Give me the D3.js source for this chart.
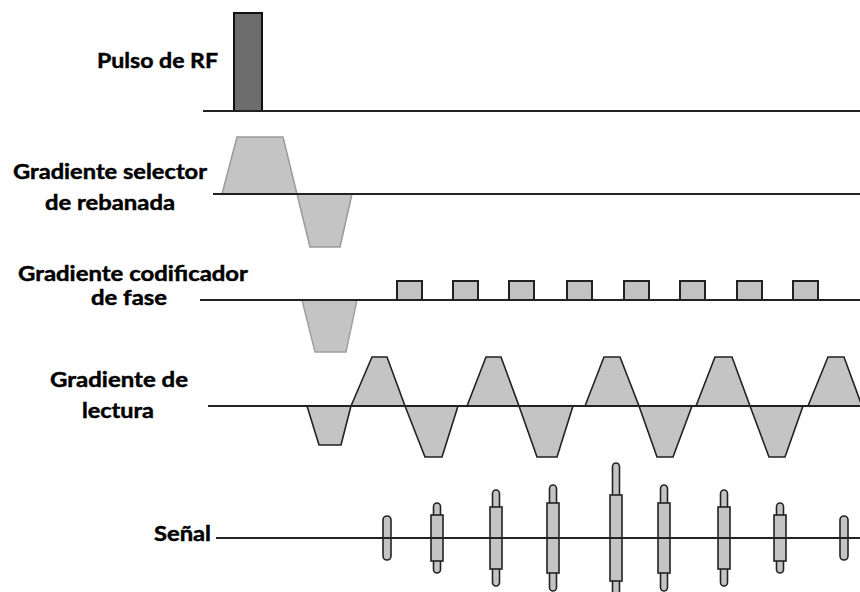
<!DOCTYPE html>
<html>
<head>
<meta charset="utf-8">
<script src="https://cdn.jsdelivr.net/npm/d3@7"></script>
<style>
  html, body { margin: 0; padding: 0; background: #fff; }
  svg { display: block; }
  text { font-family: Lato, "Open Sans", sans-serif; font-weight: 700; fill: #000; stroke: #000; stroke-width: 0.45px; }
</style>
</head>
<body>
<div id="chart"></div>
<script>
// ---------------- DATA (time in arbitrary units, amplitude in arbitrary units) ----------------
// Row labels (each row may have several lines)
const rowLabels = [
  ["Pulso de RF"],
  ["Gradiente selector", "de rebanada"],
  ["Gradiente codificador", "de fase"],
  ["Gradiente de", "lectura"],
  ["Señal"]
];

// RF pulse: [start, end, amplitude]
const rfPulses = [[5.8, 11.4, 1.96]];

// Trapezoidal lobes: [start, plateauStart, plateauEnd, end, amplitude]
const sliceLobes = [
  [3.4, 6.4, 15.6, 18.4, 1.14],
  [18.4, 21.0, 27.0, 29.4, -1.06]
];
const phasePrephaser = [[19.4, 22.0, 28.2, 30.4, -1.04]];
const phaseBlipStarts = [38.4, 49.6, 60.8, 72.4, 83.8, 95.0, 106.4, 117.6];
const phaseBlipWidth = 5;
const phaseBlipAmp = 0.38;

const readoutLobes = [
  [20.4, 22.8, 27.2, 29.2, -0.78],
  [29.2, 33.4, 36.4, 40.0, 0.98],
  [40.0, 44.0, 47.4, 50.6, -1.02],
  [52.4, 56.2, 59.2, 62.8, 0.98],
  [62.8, 66.4, 70.4, 73.6, -1.02],
  [76.0, 79.8, 83.0, 86.8, 0.98],
  [86.8, 90.4, 93.6, 97.4, -1.02],
  [98.2, 102.0, 105.4, 109.0, 0.98],
  [109.0, 112.8, 116.0, 119.6, -1.02],
  [120.6, 124.6, 127.8, 131.4, 0.98]
];

// Signal echoes
const echoTimes = [36.4, 46.4, 58.2, 69.6, 82.2, 91.8, 103.8, 115.0, 127.8];
const echoCore  = [0.44, 0.46, 0.62, 0.70, 0.86, 0.70, 0.62, 0.46, 0.44]; // half-height of wide body
const echoTail  = [0.00, 0.70, 0.96, 1.06, 1.50, 1.06, 0.96, 0.70, 0.00]; // half-height of thin tails

// ---------------- LAYOUT ----------------
const W = 860, H = 592;
const svg = d3.select("#chart").append("svg").attr("width", W).attr("height", H);

const x = d3.scaleLinear().domain([0, 131]).range([205, 860]);
// amplitude → pixel offset (shared by all rows)
const amp = d3.scaleLinear().domain([-1, 1]).range([50, -50]);

const rows = [
  { base: 111, lineStart: 203 },
  { base: 194, lineStart: 213 },
  { base: 300, lineStart: 200 },
  { base: 406, lineStart: 208 },
  { base: 538, lineStart: 216 }
];
const yRow = (r, a) => rows[r].base + amp(a);

const labelLayout = [
  [{ x: 97, y: 68, w: 121 }],
  [{ x: 13, y: 179, w: 194 }, { x: 45, y: 210, w: 130 }],
  [{ x: 18, y: 281, w: 230 }, { x: 91, y: 305, w: 76 }],
  [{ x: 50, y: 387, w: 138 }, { x: 82, y: 418, w: 72 }],
  [{ x: 154, y: 541, w: 57 }]
];

// ---------------- LABELS ----------------
rowLabels.forEach((lines, r) => {
  lines.forEach((t, i) => {
    const L = labelLayout[r][i];
    svg.append("text")
      .attr("x", L.x).attr("y", L.y)
      .attr("font-size", 20.5)
      .attr("textLength", L.w)
      .attr("lengthAdjust", "spacingAndGlyphs")
      .text(t);
  });
});

const line = d3.line();
function trapPath(r, d) {
  return line([
    [x(d[0]), yRow(r, 0)],
    [x(d[1]), yRow(r, d[4])],
    [x(d[2]), yRow(r, d[4])],
    [x(d[3]), yRow(r, 0)]
  ]) + "Z";
}

// ---------------- RF ----------------
svg.append("g").selectAll("rect").data(rfPulses).join("rect")
  .attr("x", d => x(d[0]))
  .attr("y", d => yRow(0, d[2]))
  .attr("width", d => x(d[1]) - x(d[0]))
  .attr("height", d => yRow(0, 0) - yRow(0, d[2]))
  .attr("fill", "#6d6d6d")
  .attr("stroke", "#111")
  .attr("stroke-width", 2);

// ---------------- Slice select ----------------
svg.append("g").selectAll("path").data(sliceLobes).join("path")
  .attr("d", d => trapPath(1, d))
  .attr("fill", "#c4c4c4")
  .attr("stroke", "#9a9a9a")
  .attr("stroke-width", 1.5);

// ---------------- Phase encode ----------------
svg.append("g").selectAll("path").data(phasePrephaser).join("path")
  .attr("d", d => trapPath(2, d))
  .attr("fill", "#c4c4c4")
  .attr("stroke", "#a0a0a0")
  .attr("stroke-width", 1.5);

svg.append("g").selectAll("rect").data(phaseBlipStarts).join("rect")
  .attr("x", d => x(d))
  .attr("y", yRow(2, phaseBlipAmp))
  .attr("width", x(phaseBlipWidth) - x(0))
  .attr("height", yRow(2, 0) - yRow(2, phaseBlipAmp))
  .attr("fill", "#c2c2c2")
  .attr("stroke", "#222")
  .attr("stroke-width", 2);

// ---------------- Readout ----------------
svg.append("g").selectAll("path").data(readoutLobes).join("path")
  .attr("d", d => trapPath(3, d))
  .attr("fill", "#c4c4c4")
  .attr("stroke", "#222")
  .attr("stroke-width", 1.6);

// ---------------- Baselines ----------------
rows.forEach(r => {
  svg.append("line")
    .attr("x1", r.lineStart).attr("x2", W)
    .attr("y1", r.base).attr("y2", r.base)
    .attr("stroke", "#222")
    .attr("stroke-width", 2);
});

// ---------------- Signal echoes ----------------
const echoes = echoTimes.map((t, i) => ({ t, core: echoCore[i], tail: echoTail[i] }));
const gE = svg.append("g");
echoes.forEach(e => {
  const cx = x(e.t);
  if (e.tail > 0) {
    gE.append("rect")
      .attr("x", cx - 3.5).attr("width", 7)
      .attr("y", yRow(4, e.tail)).attr("height", yRow(4, -e.tail) - yRow(4, e.tail))
      .attr("rx", 3.5)
      .attr("fill", "#c4c4c4").attr("stroke", "#222").attr("stroke-width", 1.6);
    gE.append("rect")
      .attr("x", cx - 6).attr("width", 12)
      .attr("y", yRow(4, e.core)).attr("height", yRow(4, -e.core) - yRow(4, e.core))
      .attr("fill", "#c4c4c4").attr("stroke", "#222").attr("stroke-width", 1.6);
  } else {
    gE.append("rect")
      .attr("x", cx - 4).attr("width", 8)
      .attr("y", yRow(4, e.core)).attr("height", yRow(4, -e.core) - yRow(4, e.core))
      .attr("rx", 4)
      .attr("fill", "#c4c4c4").attr("stroke", "#222").attr("stroke-width", 1.6);
  }
  gE.append("line")
    .attr("x1", cx - 7).attr("x2", cx + 7)
    .attr("y1", rows[4].base).attr("y2", rows[4].base)
    .attr("stroke", "#222").attr("stroke-width", 2);
});
</script>
</body>
</html>
